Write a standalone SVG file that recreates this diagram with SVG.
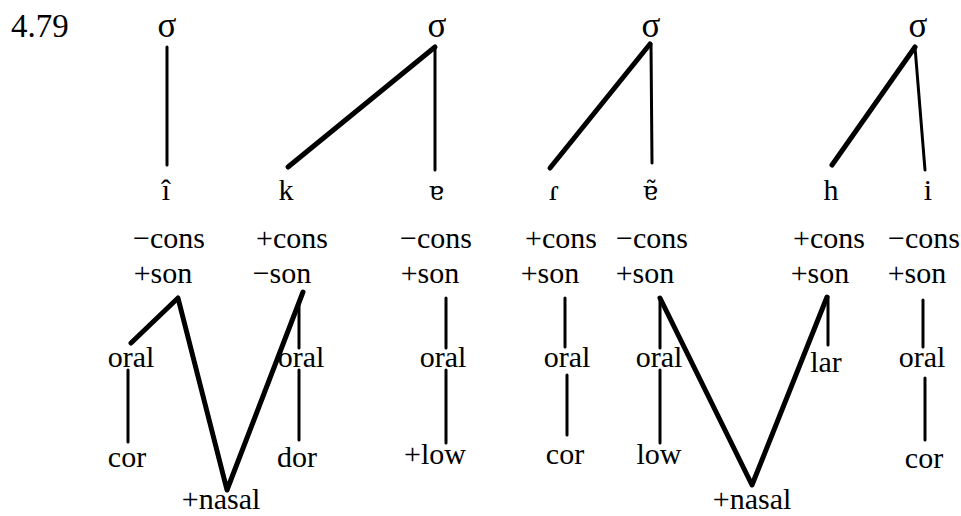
<svg xmlns="http://www.w3.org/2000/svg" width="961" height="516" viewBox="0 0 961 516">
<style>
text{font-family:"Liberation Serif","Times New Roman",serif;font-size:30px;fill:#000;text-anchor:middle}
.num{font-size:33px;text-anchor:start}
.sig{font-size:35px}
.ipa{font-family:"DejaVu Serif","Liberation Serif",serif;font-size:26px}
.thin{stroke:#000;stroke-width:3;fill:none;stroke-linecap:round}
.thick{stroke:#000;stroke-width:5;fill:none;stroke-linecap:round;stroke-linejoin:round}
</style>
<rect width="961" height="516" fill="#fff"/>
<text class="num" x="11" y="37">4.79</text>
<g id="syllables">
<g id="s1"><text class="sig" x="167" y="37">σ</text></g>
<g id="s2"><text class="sig" x="437" y="37">σ</text></g>
<g id="s3"><text class="sig" x="651" y="37">σ</text></g>
<g id="s4"><text class="sig" x="918" y="37">σ</text></g>
</g>
<g id="segments">
<g id="seg1"><text x="166" y="200">î</text><text x="169" y="248">−cons</text><text x="163" y="283">+son</text><text x="131" y="367">oral</text><text x="127" y="467">cor</text></g>
<g id="seg2"><text x="286" y="200">k</text><text x="292" y="248">+cons</text><text x="282" y="283">−son</text><text x="301" y="367">oral</text><text x="297" y="467">dor</text></g>
<g id="seg3"><text class="ipa" x="436" y="200">ɐ</text><text x="436" y="248">−cons</text><text x="430" y="283">+son</text><text x="443" y="367">oral</text><text x="435" y="464">+low</text></g>
<g id="seg4"><text x="554" y="200">ɾ</text><text x="561" y="248">+cons</text><text x="550" y="283">+son</text><text x="567" y="367">oral</text><text x="565" y="464">cor</text></g>
<g id="seg5"><text class="ipa" x="650" y="200">ɐ̃</text><text x="652" y="248">−cons</text><text x="645" y="283">+son</text><text x="659" y="367">oral</text><text x="659" y="464">low</text></g>
<g id="seg6"><text x="831" y="200">h</text><text x="829" y="248">+cons</text><text x="820" y="283">+son</text><text x="826" y="372">lar</text></g>
<g id="seg7"><text x="928" y="200">i</text><text x="924" y="248">−cons</text><text x="917" y="283">+son</text><text x="922" y="367">oral</text><text x="924" y="468">cor</text></g>
<g id="nasal1"><text x="221" y="509">+nasal</text></g>
<g id="nasal2"><text x="752" y="509">+nasal</text></g>
</g>
<g id="connectors">
<line class="thin" x1="167" y1="47" x2="167" y2="165"/>
<line class="thick" x1="435" y1="47" x2="288" y2="167"/>
<line class="thin" x1="435" y1="47" x2="435" y2="170"/>
<line class="thick" x1="650" y1="44" x2="550" y2="168"/>
<line class="thin" x1="651" y1="44" x2="652" y2="163"/>
<line class="thick" x1="915" y1="47" x2="832" y2="165"/>
<line class="thin" x1="915" y1="47" x2="925" y2="170"/>
<polyline class="thick" points="131,343 178,298 227,490 303,292"/>
<line class="thin" x1="299" y1="303" x2="299" y2="348"/>
<line class="thin" x1="299" y1="370" x2="299" y2="440"/>
<line class="thin" x1="128" y1="370" x2="128" y2="442"/>
<line class="thin" x1="446" y1="298" x2="446" y2="348"/>
<line class="thin" x1="446" y1="370" x2="446" y2="443"/>
<line class="thin" x1="565" y1="298" x2="565" y2="347"/>
<line class="thin" x1="567" y1="375" x2="567" y2="435"/>
<line class="thin" x1="660" y1="298" x2="660" y2="348"/>
<line class="thin" x1="660" y1="370" x2="660" y2="443"/>
<polyline class="thick" points="660,298 752,485 827,297"/>
<line class="thin" x1="828" y1="297" x2="828" y2="345"/>
<line class="thin" x1="923" y1="300" x2="923" y2="347"/>
<line class="thin" x1="925" y1="378" x2="925" y2="440"/>
</g>
</svg>
